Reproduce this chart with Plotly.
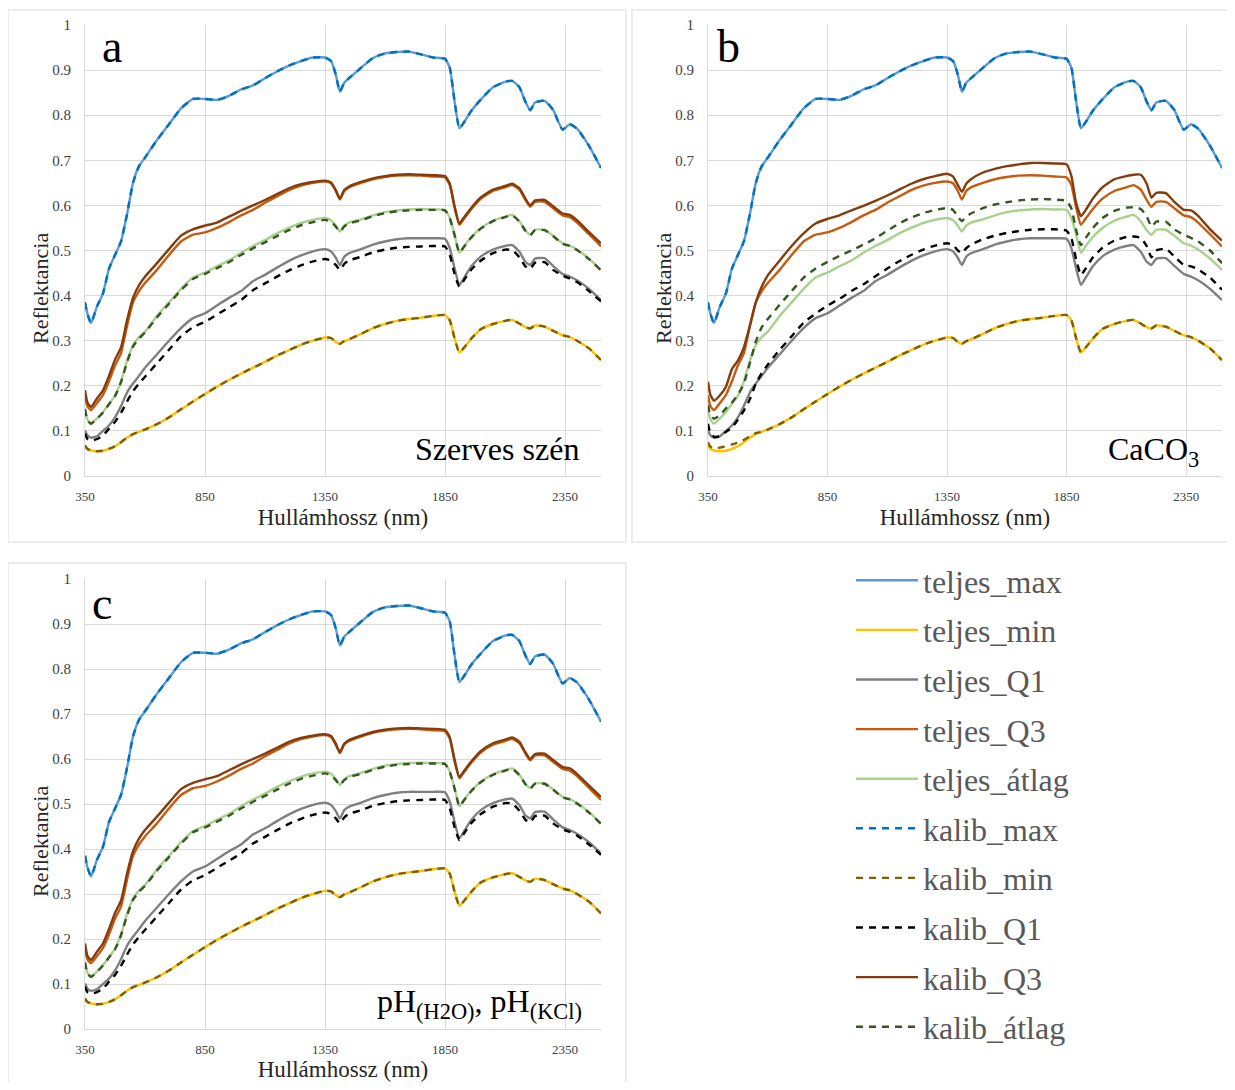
import plotly.graph_objects as go

# ---------------- data ----------------
wavelength = [350, 360, 375, 400, 425, 450, 475, 500, 525, 550,
              575, 600, 650, 700, 750, 800, 850, 900, 950, 1000,
              1050, 1100, 1150, 1200, 1250, 1300, 1350, 1375, 1395, 1412,
              1430, 1450, 1500, 1550, 1600, 1650, 1700, 1750, 1800, 1850,
              1870, 1890, 1910, 1930, 1960, 2000, 2050, 2100, 2130, 2160,
              2185, 2205, 2225, 2265, 2300, 2340, 2370, 2400, 2450, 2500]

teljes_max = [0.385, 0.360, 0.339, 0.376, 0.405, 0.460, 0.490, 0.520, 0.580, 0.650,
              0.687, 0.706, 0.745, 0.780, 0.815, 0.836, 0.836, 0.834, 0.843, 0.857,
              0.866, 0.882, 0.897, 0.910, 0.920, 0.928, 0.928, 0.920, 0.890, 0.852,
              0.872, 0.882, 0.905, 0.927, 0.937, 0.940, 0.941, 0.935, 0.928, 0.925,
              0.905, 0.830, 0.771, 0.785, 0.810, 0.835, 0.862, 0.874, 0.876, 0.862,
              0.830, 0.811, 0.828, 0.832, 0.812, 0.768, 0.780, 0.770, 0.732, 0.683]

teljes_min = [0.068, 0.060, 0.057, 0.055, 0.056, 0.060, 0.066, 0.075, 0.085, 0.093,
              0.098, 0.103, 0.115, 0.130, 0.148, 0.165, 0.182, 0.198, 0.213, 0.227,
              0.240, 0.253, 0.267, 0.279, 0.291, 0.300, 0.307, 0.306, 0.297, 0.293,
              0.299, 0.303, 0.315, 0.328, 0.337, 0.344, 0.348, 0.351, 0.355, 0.357,
              0.345, 0.305, 0.274, 0.285, 0.305, 0.326, 0.337, 0.344, 0.346, 0.338,
              0.330, 0.327, 0.334, 0.331, 0.322, 0.312, 0.308, 0.300, 0.283, 0.257]

teljes_Q1 = [0.101, 0.090, 0.085, 0.088, 0.100, 0.112, 0.130, 0.155, 0.185, 0.205,
             0.222, 0.240, 0.270, 0.300, 0.328, 0.350, 0.361, 0.378, 0.395, 0.410,
             0.432, 0.446, 0.462, 0.477, 0.489, 0.498, 0.503, 0.498, 0.484, 0.468,
             0.486, 0.494, 0.503, 0.513, 0.520, 0.525, 0.527, 0.527, 0.527, 0.526,
             0.505, 0.460, 0.424, 0.440, 0.465, 0.487, 0.502, 0.510, 0.512, 0.497,
             0.475, 0.468, 0.482, 0.483, 0.466, 0.448, 0.442, 0.434, 0.415, 0.390]

teljes_Q3 = [0.179, 0.155, 0.146, 0.162, 0.180, 0.210, 0.245, 0.272, 0.332, 0.385,
             0.410, 0.428, 0.457, 0.490, 0.520, 0.535, 0.540, 0.550, 0.563, 0.578,
             0.590, 0.606, 0.620, 0.634, 0.644, 0.650, 0.653, 0.649, 0.632, 0.613,
             0.632, 0.640, 0.650, 0.658, 0.663, 0.666, 0.667, 0.666, 0.664, 0.662,
             0.645, 0.595, 0.557, 0.571, 0.592, 0.615, 0.632, 0.640, 0.645, 0.635,
             0.612, 0.597, 0.608, 0.608, 0.594, 0.578, 0.574, 0.562, 0.536, 0.509]

teljes_atlag = [0.150, 0.125, 0.116, 0.128, 0.142, 0.160, 0.178, 0.210, 0.255, 0.290,
                0.308, 0.320, 0.355, 0.385, 0.415, 0.440, 0.451, 0.465, 0.478, 0.495,
                0.510, 0.523, 0.538, 0.550, 0.561, 0.568, 0.572, 0.567, 0.555, 0.542,
                0.555, 0.562, 0.569, 0.578, 0.585, 0.589, 0.591, 0.592, 0.591, 0.590,
                0.572, 0.535, 0.495, 0.510, 0.530, 0.550, 0.566, 0.575, 0.579, 0.565,
                0.545, 0.535, 0.546, 0.546, 0.533, 0.516, 0.511, 0.502, 0.482, 0.457]

# calibration set for panels a (Szerves szén) and c (pH)
kalib_max_ac = teljes_max
kalib_min_ac = teljes_min
kalib_Q1_ac = [0.094, 0.082, 0.078, 0.082, 0.090, 0.105, 0.120, 0.140, 0.165, 0.188,
               0.205, 0.220, 0.250, 0.280, 0.310, 0.330, 0.342, 0.358, 0.374, 0.390,
               0.412, 0.427, 0.442, 0.456, 0.467, 0.476, 0.481, 0.478, 0.468, 0.457,
               0.470, 0.478, 0.486, 0.496, 0.502, 0.506, 0.508, 0.509, 0.510, 0.509,
               0.490, 0.448, 0.420, 0.435, 0.458, 0.478, 0.494, 0.502, 0.501, 0.485,
               0.465, 0.459, 0.473, 0.474, 0.457, 0.444, 0.438, 0.430, 0.410, 0.387]
kalib_Q3_ac = [0.190, 0.163, 0.153, 0.172, 0.190, 0.222, 0.258, 0.285, 0.345, 0.395,
               0.423, 0.442, 0.472, 0.503, 0.533, 0.547, 0.555, 0.562, 0.575, 0.588,
               0.600, 0.612, 0.625, 0.638, 0.647, 0.652, 0.655, 0.651, 0.634, 0.615,
               0.634, 0.642, 0.652, 0.660, 0.665, 0.668, 0.669, 0.668, 0.667, 0.665,
               0.648, 0.598, 0.560, 0.574, 0.595, 0.618, 0.635, 0.643, 0.648, 0.638,
               0.615, 0.600, 0.611, 0.612, 0.598, 0.582, 0.579, 0.567, 0.541, 0.516]
kalib_atlag_ac = [0.148, 0.124, 0.116, 0.127, 0.141, 0.159, 0.177, 0.208, 0.252, 0.287,
                  0.305, 0.318, 0.352, 0.382, 0.412, 0.437, 0.448, 0.461, 0.474, 0.490,
                  0.505, 0.518, 0.532, 0.545, 0.556, 0.563, 0.568, 0.564, 0.553, 0.542,
                  0.553, 0.560, 0.567, 0.576, 0.583, 0.587, 0.589, 0.590, 0.590, 0.589,
                  0.571, 0.534, 0.495, 0.509, 0.529, 0.549, 0.565, 0.574, 0.578, 0.564,
                  0.544, 0.534, 0.545, 0.545, 0.532, 0.515, 0.510, 0.501, 0.481, 0.456]

# calibration set for panel b (CaCO3)
kalib_max_b = teljes_max
kalib_min_b = [0.075, 0.065, 0.061, 0.063, 0.066, 0.070, 0.074, 0.080, 0.088, 0.095,
               0.098, 0.103, 0.115, 0.130, 0.148, 0.165, 0.182, 0.198, 0.213, 0.227,
               0.240, 0.253, 0.267, 0.279, 0.291, 0.300, 0.307, 0.306, 0.297, 0.293,
               0.299, 0.303, 0.315, 0.328, 0.337, 0.344, 0.348, 0.351, 0.355, 0.357,
               0.345, 0.305, 0.274, 0.285, 0.305, 0.326, 0.337, 0.344, 0.346, 0.338,
               0.330, 0.327, 0.334, 0.331, 0.322, 0.312, 0.308, 0.300, 0.283, 0.257]
kalib_Q1_b = [0.116, 0.095, 0.087, 0.088, 0.098, 0.107, 0.125, 0.145, 0.170, 0.205,
              0.228, 0.247, 0.280, 0.310, 0.340, 0.360, 0.378, 0.393, 0.410, 0.425,
              0.443, 0.460, 0.476, 0.490, 0.502, 0.511, 0.516, 0.512, 0.500, 0.494,
              0.505, 0.513, 0.525, 0.533, 0.539, 0.543, 0.546, 0.547, 0.547, 0.544,
              0.527, 0.480, 0.446, 0.460, 0.485, 0.506, 0.522, 0.530, 0.531, 0.528,
              0.510, 0.485, 0.500, 0.504, 0.487, 0.468, 0.465, 0.458, 0.440, 0.413]
kalib_Q3_b = [0.209, 0.180, 0.167, 0.179, 0.198, 0.237, 0.256, 0.285, 0.333, 0.385,
              0.420, 0.445, 0.478, 0.510, 0.538, 0.560, 0.570, 0.578, 0.589, 0.599,
              0.610, 0.622, 0.635, 0.648, 0.658, 0.665, 0.670, 0.664, 0.645, 0.630,
              0.648, 0.658, 0.673, 0.681, 0.687, 0.691, 0.694, 0.694, 0.693, 0.691,
              0.665, 0.605, 0.576, 0.590, 0.615, 0.640, 0.658, 0.665, 0.668, 0.668,
              0.648, 0.617, 0.628, 0.627, 0.608, 0.590, 0.589, 0.577, 0.547, 0.522]
kalib_atlag_b = [0.157, 0.135, 0.127, 0.135, 0.150, 0.163, 0.180, 0.205, 0.250, 0.298,
                 0.330, 0.348, 0.380, 0.410, 0.440, 0.460, 0.475, 0.488, 0.500, 0.513,
                 0.527, 0.544, 0.560, 0.573, 0.583, 0.590, 0.594, 0.590, 0.575, 0.565,
                 0.575, 0.582, 0.594, 0.602, 0.607, 0.611, 0.613, 0.614, 0.613, 0.610,
                 0.593, 0.545, 0.512, 0.528, 0.550, 0.572, 0.588, 0.595, 0.596, 0.592,
                 0.576, 0.553, 0.564, 0.564, 0.547, 0.535, 0.528, 0.520, 0.500, 0.472]

x_tick_values = [350, 850, 1350, 1850, 2350]
y_tick_values = [0, 0.1, 0.2, 0.3, 0.4, 0.5, 0.6, 0.7, 0.8, 0.9, 1]
y_tick_labels = ["0", "0.1", "0.2", "0.3", "0.4", "0.5", "0.6", "0.7", "0.8", "0.9", "1"]

series_names = ["teljes_max", "teljes_min", "teljes_Q1", "teljes_Q3", "teljes_átlag",
                "kalib_max", "kalib_min", "kalib_Q1", "kalib_Q3", "kalib_átlag"]
panel_labels = ["a", "b", "c"]
panel_notes = ["Szerves szén", "CaCO<sub>3</sub>", "pH<sub>(H2O)</sub>, pH<sub>(KCl)</sub>"]
x_title = "Hullámhossz (nm)"
y_title = "Reflektancia"

# ---------------- styles ----------------
styles = {
    "teljes_max":   dict(color="#5B9BD5", dash="solid"),
    "teljes_min":   dict(color="#FFC000", dash="solid"),
    "teljes_Q1":    dict(color="#7F7F7F", dash="solid"),
    "teljes_Q3":    dict(color="#C55A11", dash="solid"),
    "teljes_átlag": dict(color="#A9D18E", dash="solid"),
    "kalib_max":    dict(color="#0070C0", dash="7px,6px"),
    "kalib_min":    dict(color="#7F6000", dash="7px,6px"),
    "kalib_Q1":     dict(color="#000000", dash="7px,6px"),
    "kalib_Q3":     dict(color="#843C0C", dash="solid"),
    "kalib_átlag":  dict(color="#375623", dash="7px,6px"),
}

teljes_sets = [teljes_max, teljes_min, teljes_Q1, teljes_Q3, teljes_atlag]
kalib_sets = [
    [kalib_max_ac, kalib_min_ac, kalib_Q1_ac, kalib_Q3_ac, kalib_atlag_ac],
    [kalib_max_b, kalib_min_b, kalib_Q1_b, kalib_Q3_b, kalib_atlag_b],
    [kalib_max_ac, kalib_min_ac, kalib_Q1_ac, kalib_Q3_ac, kalib_atlag_ac],
]

# the page body has an 8px margin: the figure is sized so it fits the window
OFF = 8
W, H = 1235 - 2 * OFF, 1090 - 2 * OFF
SERIF = "Liberation Serif, Times New Roman, serif"


def px(x):
    """reference-window x pixel -> paper fraction"""
    return (x - OFF) / W


def py(y):
    """reference-window y pixel -> paper fraction"""
    return 1 - (y - OFF) / H


# plot areas in window pixels: (left, right, top, bottom)
areas = [(85, 601, 25, 476), (708, 1222, 25, 476), (85, 601, 579, 1029)]
frames = [(8, 626, 10, 542), (632, 1234, 10, 542), (8, 626, 563, 1089)]

fig = go.Figure()

for p in range(3):
    xa = "x" if p == 0 else f"x{p+1}"
    ya = "y" if p == 0 else f"y{p+1}"
    ys = teljes_sets + kalib_sets[p]
    for name, vals in zip(series_names, ys):
        st = styles[name]
        fig.add_trace(go.Scatter(
            x=wavelength, y=vals, name=name, mode="lines",
            line=dict(color=st["color"], dash=st["dash"], width=2.4,
                      shape="spline", smoothing=0.5),
            xaxis=xa, yaxis=ya, showlegend=(p == 0), legendgroup=name,
            hoverinfo="x+y+name",
        ))

axis_common_x = dict(range=[350, 2500], tickvals=x_tick_values, showgrid=True,
                     gridcolor="#D9D9D9", gridwidth=1, zeroline=False, showline=True,
                     linecolor="#D9D9D9", ticks="", ticklabelstandoff=8,
                     tickfont=dict(family=SERIF, size=13, color="#404040"),
                     title=dict(text=x_title, standoff=6,
                                font=dict(family=SERIF, size=23, color="#262626")))
axis_common_y = dict(range=[0, 1], tickvals=y_tick_values, ticktext=y_tick_labels,
                     showgrid=True, gridcolor="#D9D9D9", gridwidth=1, zeroline=False,
                     showline=True, linecolor="#D9D9D9", ticks="", ticklabelstandoff=10,
                     tickfont=dict(family=SERIF, size=15, color="#404040"))

layout_axes = {}
for p, (l, r, t, b) in enumerate(areas):
    sx = "" if p == 0 else str(p + 1)
    layout_axes[f"xaxis{sx}"] = dict(axis_common_x, domain=[px(l), px(r)],
                                     anchor=f"y{sx}")
    layout_axes[f"yaxis{sx}"] = dict(axis_common_y, domain=[py(b), py(t)],
                                     anchor=f"x{sx}")

shapes = [dict(type="rect", xref="paper", yref="paper",
               x0=px(x0), x1=px(x1), y0=py(y1), y1=py(y0),
               line=dict(color="#E6E6E6", width=1.5), layer="below")
          for (x0, x1, y0, y1) in frames]

annotations = []
label_pos = [(112, 47), (728, 47), (102, 603)]
note_pos = [(581, 449), (1201, 451), (584, 1003)]
ytitle_pos = [(40, 289), (663, 289), (40, 842)]
for p in range(3):
    annotations.append(dict(text=panel_labels[p], xref="paper", yref="paper",
                            x=px(label_pos[p][0]), y=py(label_pos[p][1]),
                            xanchor="center", yanchor="middle", showarrow=False,
                            font=dict(family=SERIF, size=46, color="#000000")))
    annotations.append(dict(text=panel_notes[p], xref="paper", yref="paper",
                            x=px(note_pos[p][0]), y=py(note_pos[p][1]),
                            xanchor="right", yanchor="middle", showarrow=False,
                            font=dict(family=SERIF, size=32, color="#000000")))
    annotations.append(dict(text=y_title, xref="paper", yref="paper",
                            x=px(ytitle_pos[p][0]), y=py(ytitle_pos[p][1]),
                            xanchor="center", yanchor="middle", showarrow=False,
                            textangle=-90,
                            font=dict(family=SERIF, size=22, color="#262626")))

fig.update_layout(
    width=W, height=H,
    margin=dict(l=0, r=0, t=0, b=0, pad=0, autoexpand=False),
    paper_bgcolor="white", plot_bgcolor="white",
    shapes=shapes, annotations=annotations,
    legend=dict(x=px(851), y=py(553), xanchor="left", yanchor="top",
                font=dict(family=SERIF, size=32, color="#595959"),
                bgcolor="rgba(0,0,0,0)", tracegroupgap=5, itemwidth=62),
    **layout_axes,
)

fig.write_html("out.html")
